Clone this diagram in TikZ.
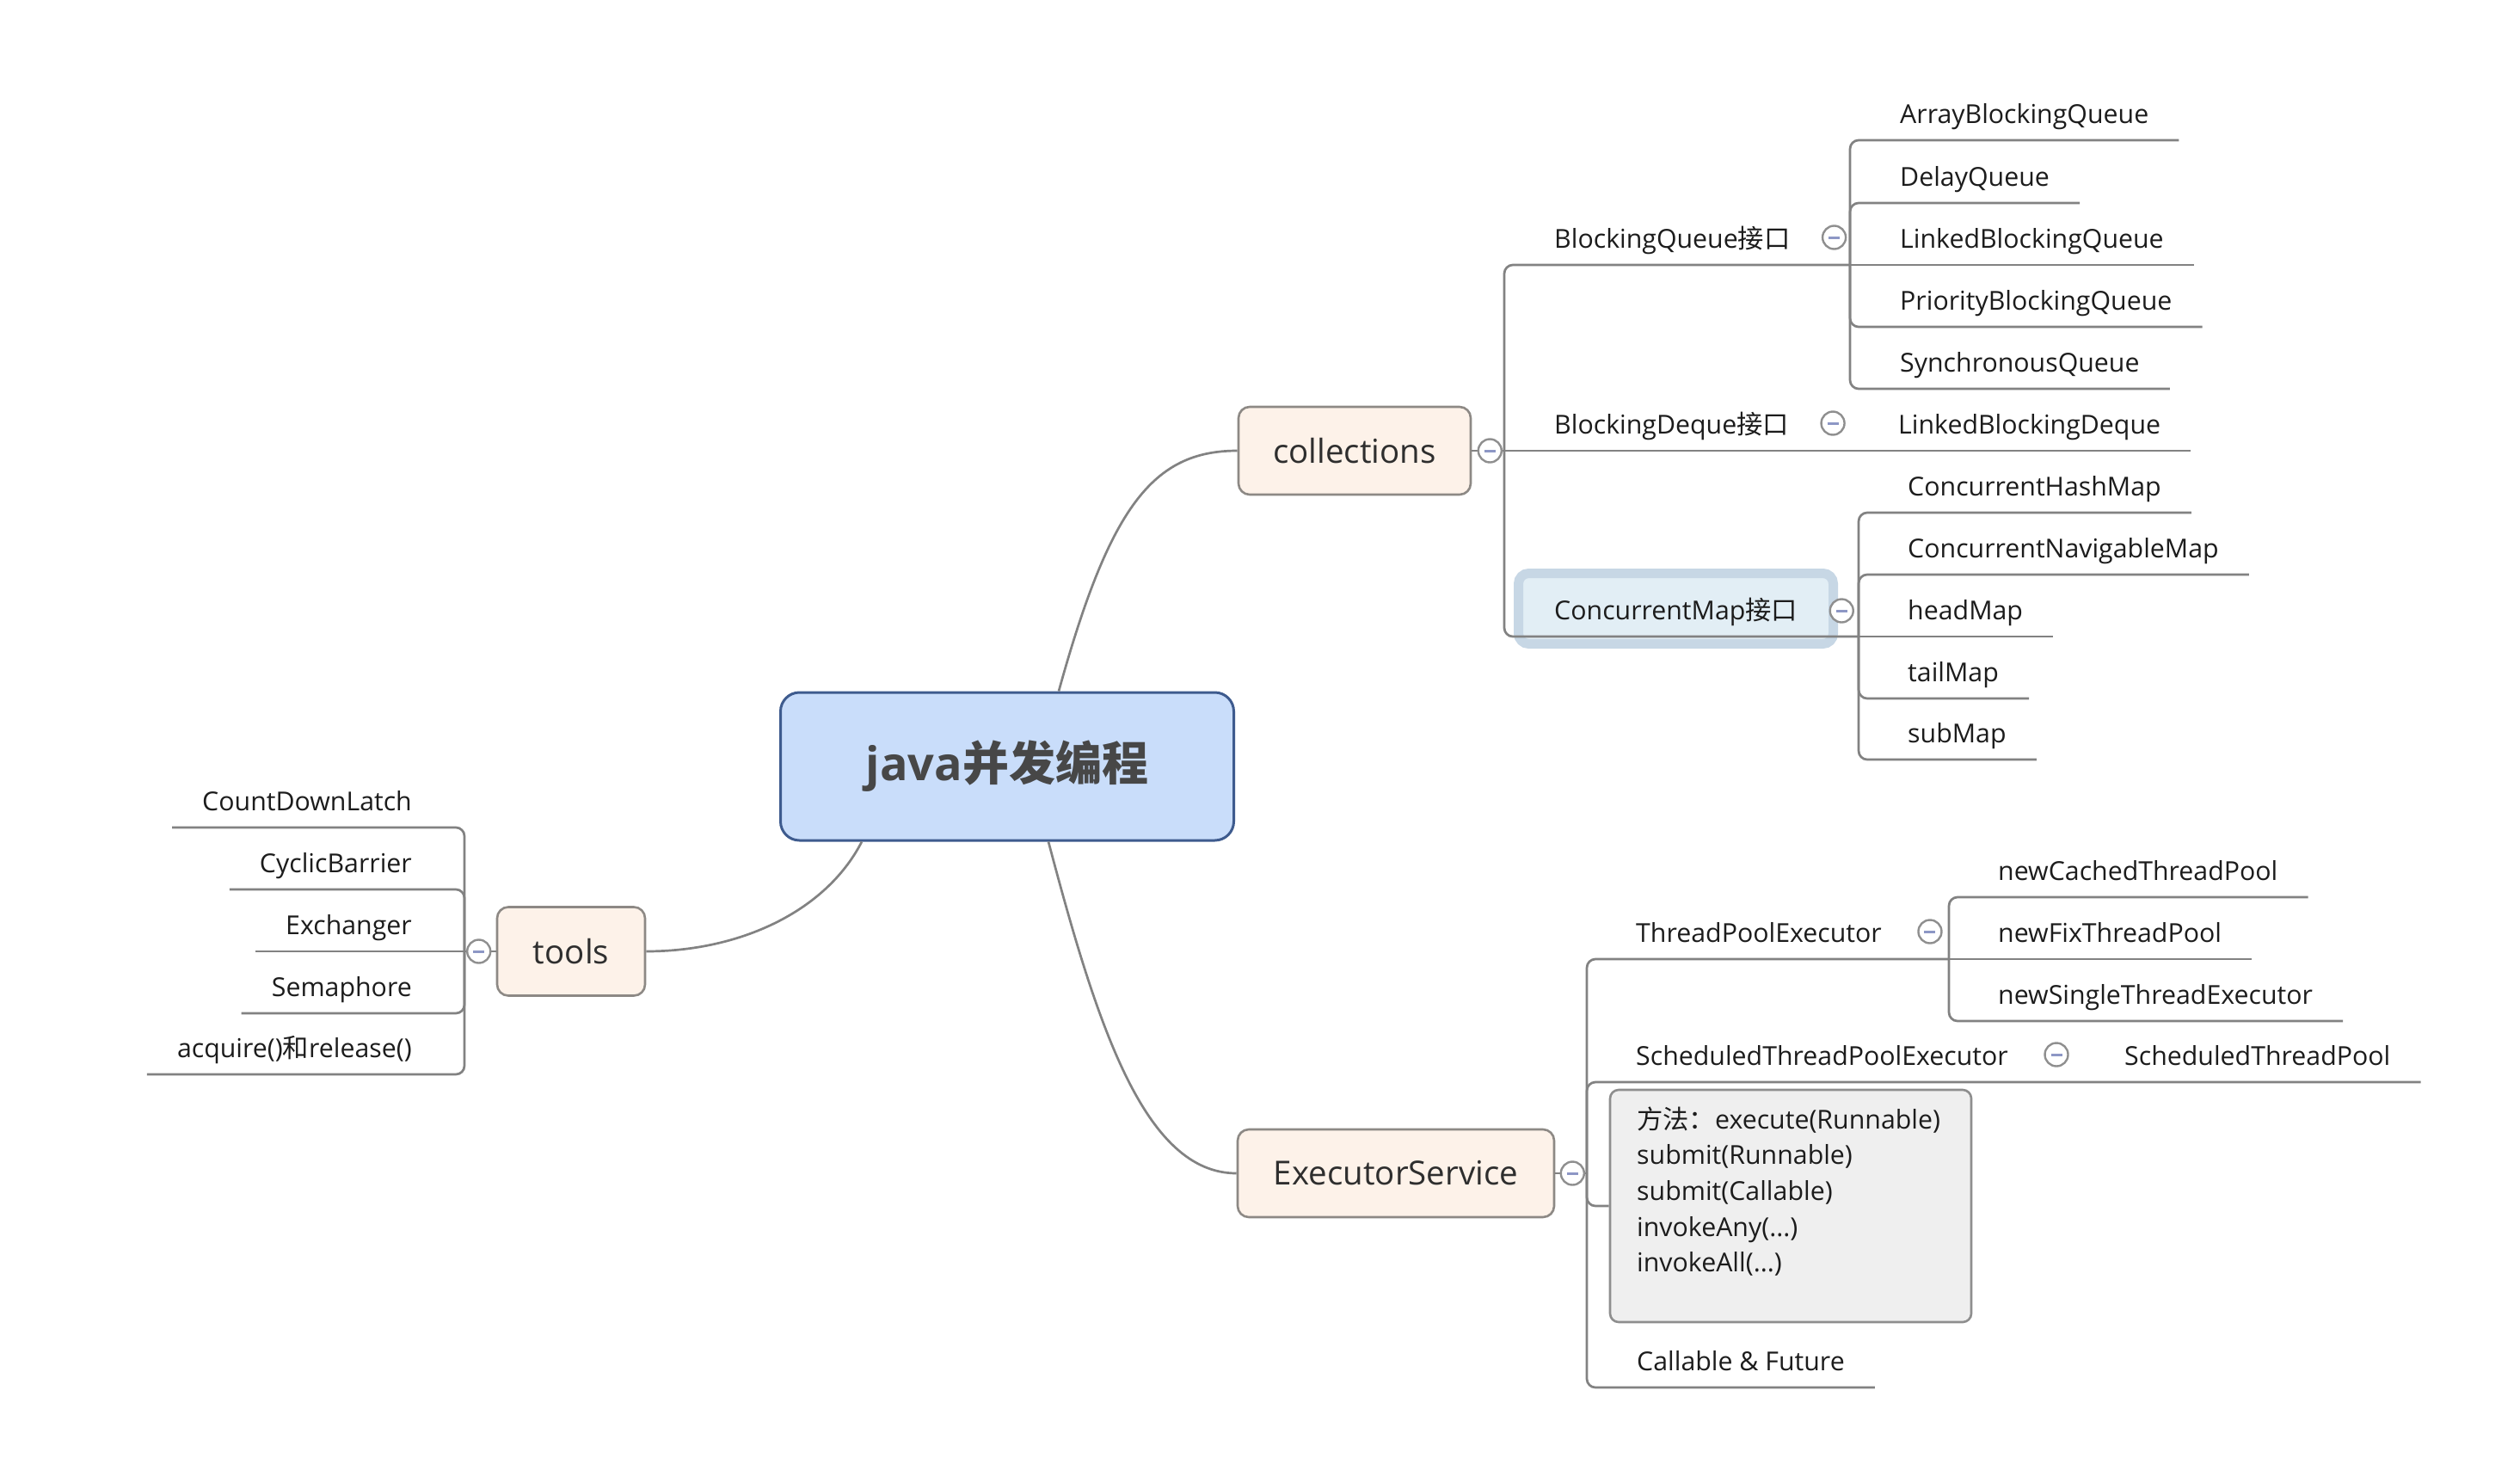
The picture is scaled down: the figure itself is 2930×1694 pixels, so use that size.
\documentclass[tikz,border=0pt]{standalone}
\usepackage{fontspec}
\setmainfont{Open Sans}
\newfontfamily\cjk{Noto Sans CJK SC}
\usetikzlibrary{calc}
\definecolor{linec}{HTML}{828282}
\definecolor{cenf}{HTML}{C9DDFA}
\definecolor{cenb}{HTML}{3E5B8E}
\definecolor{cent}{HTML}{474747}
\definecolor{mainf}{HTML}{FDF2E9}
\definecolor{mainb}{HTML}{8D8985}
\definecolor{maint}{HTML}{2E2E2E}
\definecolor{self}{HTML}{E2EEF5}
\definecolor{selb}{HTML}{C7D7E5}
\definecolor{boxf}{HTML}{EFEFEF}
\definecolor{boxb}{HTML}{8E8E8E}
\definecolor{foldc}{HTML}{8F8F8F}
\definecolor{minusc}{HTML}{8D97C5}
\definecolor{txtc}{HTML}{1C1C1C}
\begin{document}
\begin{tikzpicture}[x=1pt,y=-1pt,
  leaf/.style={anchor=base west,inner sep=0pt,font=\fontsize{30.3}{36}\selectfont,text=txtc},
  leafr/.style={leaf,anchor=base east},
  conn/.style={draw=linec,line width=2.7pt,rounded corners=10pt},
  rootlink/.style={draw=linec,line width=2.7pt},
  topic/.style={draw=mainb,fill=mainf,line width=2.6pt,rounded corners=13pt,font=\fontsize{38.5}{46}\selectfont,text=maint,inner sep=0pt},
  centraltopic/.style={draw=cenb,fill=cenf,line width=3pt,rounded corners=22pt,font=\fontsize{54}{64}\selectfont\bfseries,text=cent,inner sep=0pt,minimum width=527pt,minimum height=172pt},
  selbox/.style={draw=selb,fill=self,line width=11pt,rounded corners=12pt},
  mbox/.style={draw=boxb,fill=boxf,line width=2.6pt,rounded corners=10pt,minimum width=420pt,minimum height=270pt,inner sep=0pt},
  fold/.style={circle,draw=foldc,fill=white,line width=2.4pt,minimum size=27pt,inner sep=0pt,
    path picture={\draw[minusc,line width=3pt] ([xshift=-6.5pt]path picture bounding box.center) -- ([xshift=6.5pt]path picture bounding box.center);}}
]
\fill[white] (0,0) rectangle (2930,1694);
\useasboundingbox (0,0) rectangle (2930,1694);

% main topics
\node[centraltopic] (root) at (1171,891) {java{\cjk 并发编程}};
\node[topic,minimum width=270pt,minimum height=102pt] (coll) at (1575,524) {collections};
\node[topic,minimum width=368pt,minimum height=102pt] (exec) at (1623,1364) {ExecutorService};
\node[topic,minimum width=172pt,minimum height=103pt] (tools) at (664,1106) {tools};

\draw[rootlink] ([xshift=325pt]root.north west) .. controls (1290,590) and (1340,524) .. (coll.west);
\draw[rootlink] ([xshift=313pt]root.south west) .. controls (1275,1190) and (1330,1364) .. (exec.west);
\draw[rootlink] ([xshift=96pt]root.south west) .. controls (960,1060) and (860,1106) .. (tools.east);

% selection highlight
\draw[selbox] (1765.5,666.5) rectangle (2131.5,748.5);

% collections branch
\node[leaf] (bq) at (1807,288) {BlockingQueue{\cjk 接口}};
\node[leaf] (bd) at (1807,504) {BlockingDeque{\cjk 接口}};
\node[leaf] (cm) at (1807,720) {ConcurrentMap{\cjk 接口}};
\node[leaf] (abq) at (2209,143) {ArrayBlockingQueue};
\node[leaf] (dq) at (2209,216) {DelayQueue};
\node[leaf] (lbq) at (2209,288) {LinkedBlockingQueue};
\node[leaf] (pbq) at (2209,360) {PriorityBlockingQueue};
\node[leaf] (sq) at (2209,432) {SynchronousQueue};
\node[leaf] (lbd) at (2207,504) {LinkedBlockingDeque};
\node[leaf] (chm) at (2218,576) {ConcurrentHashMap};
\node[leaf] (cnm) at (2218,648) {ConcurrentNavigableMap};
\node[leaf] (hm) at (2218,720) {headMap};
\node[leaf] (tm) at (2218,792) {tailMap};
\node[leaf] (sm) at (2218,863) {subMap};
\coordinate (ct) at (1749,524);
\coordinate (bqj) at (2151,308);
\coordinate (cmj) at (2161,740);
\draw[conn] (coll.east) -- (ct);
\draw[conn] (ct) |- (bqj);
\draw[conn] (ct) -- ($(lbd.base east)+(35,20)$);
\draw[conn] (ct) |- (cmj);
\foreach \n in {abq,dq,pbq,sq} \draw[conn] (bqj) |- ($(\n.base east)+(35,20)$);
\draw[conn] (bqj) -- ($(lbq.base east)+(35,20)$);
\foreach \n in {chm,cnm,tm,sm} \draw[conn] (cmj) |- ($(\n.base east)+(35,20)$);
\draw[conn] (cmj) -- ($(hm.base east)+(35,20)$);

% executor branch
\node[leaf] (tpe) at (1902,1095) {ThreadPoolExecutor};
\node[leaf] (stpe) at (1902,1238) {ScheduledThreadPoolExecutor};
\node[leaf] (ncp) at (2323,1023) {newCachedThreadPool};
\node[leaf] (nfp) at (2323,1095) {newFixThreadPool};
\node[leaf] (nse) at (2323,1167) {newSingleThreadExecutor};
\node[leaf] (stp) at (2470,1238) {ScheduledThreadPool};
\node[mbox] (mb) at (2082,1402) {};
\node[leaf] (m1) at (1903,1312) {{\cjk 方法：}execute(Runnable)};
\node[leaf] (m2) at (1903,1353) {submit(Runnable)};
\node[leaf] (m3) at (1903,1395) {submit(Callable)};
\node[leaf] (m4) at (1903,1437) {invokeAny(...)};
\node[leaf] (m5) at (1903,1478) {invokeAll(...)};
\node[leaf] (cf) at (1903,1593) {Callable \& Future};
\coordinate (et) at (1845,1364);
\coordinate (tpj) at (2266,1115);
\draw[conn] (exec.east) -- (et);
\draw[conn] (et) |- (tpj);
\draw[conn] (tpj) |- ($(ncp.base east)+(35,20)$);
\draw[conn] (tpj) -- ($(nfp.base east)+(35,20)$);
\draw[conn] (tpj) |- ($(nse.base east)+(35,20)$);
\draw[conn] (et) |- ($(stp.base east)+(35,20)$);
\draw[conn] (et) |- (mb.west);
\draw[conn] (et) |- ($(cf.base east)+(35,20)$);

% tools branch
\node[leafr] (cdl) at (479,942) {CountDownLatch};
\node[leafr] (cb) at (479,1014) {CyclicBarrier};
\node[leafr] (exg) at (479,1086) {Exchanger};
\node[leafr] (sem) at (479,1158) {Semaphore};
\node[leafr] (acq) at (479,1229) {acquire(){\cjk 和}release()};
\coordinate (tt) at (540,1106);
\draw[conn] (tools.west) -- (tt);
\foreach \n in {cdl,cb,sem,acq} \draw[conn] (tt) |- ($(\n.base west)+(-35,20)$);
\draw[conn] (tt) -- ($(exg.base west)+(-35,20)$);

% fold markers
\node[fold] (fcoll) at ($(coll.east)+(21,0)$) {};
\node[fold] (fexec) at ($(exec.east)+(20,0)$) {};
\node[fold] (ftools) at ($(tools.west)+(-20,0)$) {};
\node[fold] (fbq) at ($(bq.base east)+(51,-12)$) {};
\node[fold] (fbd) at ($(bd.base east)+(51,-12)$) {};
\node[fold] (fcm) at ($(cm.base east)+(51,-10)$) {};
\node[fold] (ftpe) at ($(tpe.base east)+(56,-12)$) {};
\node[fold] (fstpe) at ($(stpe.base east)+(56,-12)$) {};
\end{tikzpicture}
\end{document}
